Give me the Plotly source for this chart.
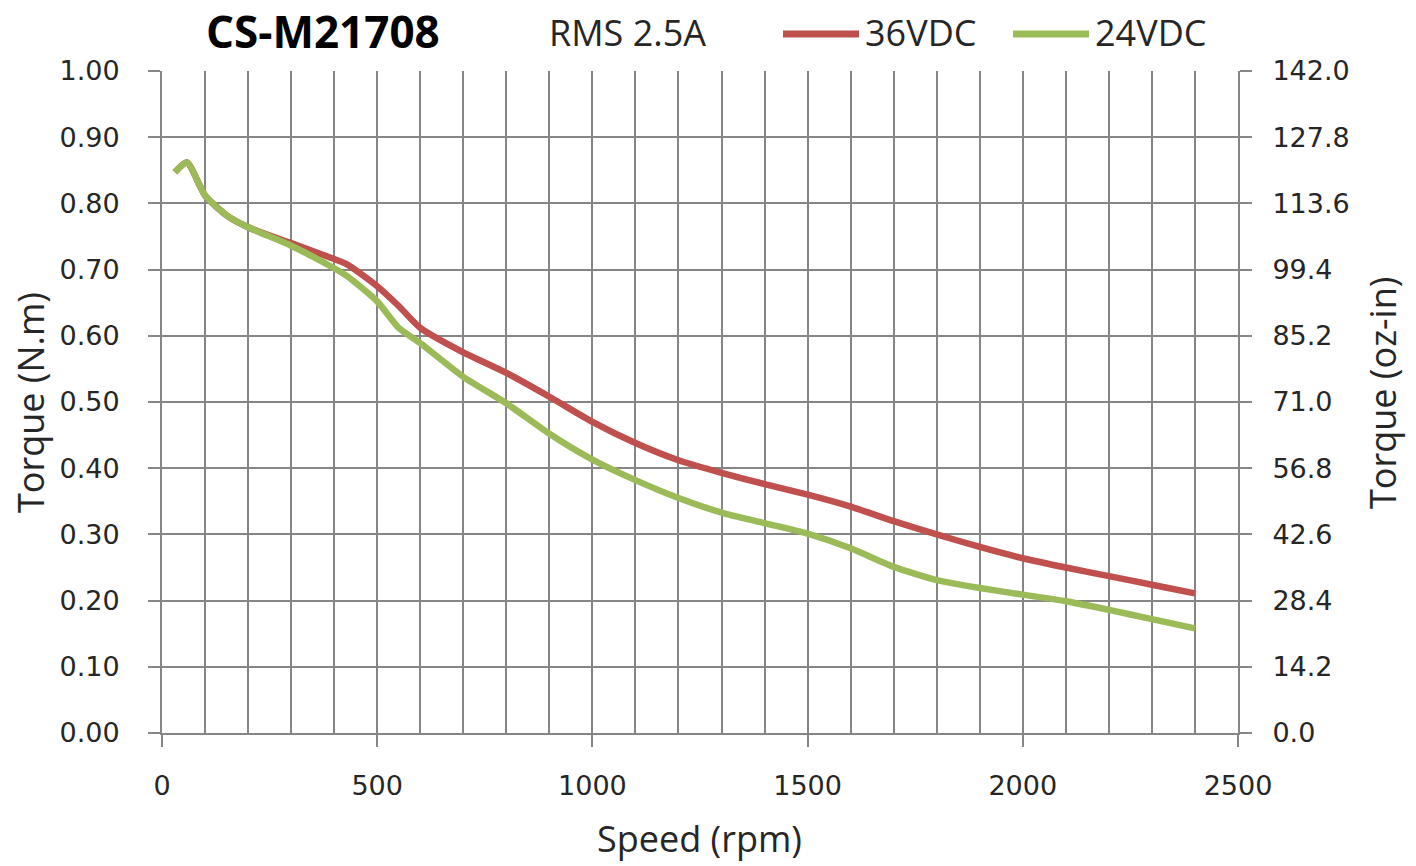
import plotly.graph_objects as go

# Speed (rpm) and torque (N.m) for the two supply voltages
speed = [30, 58, 100, 150, 200, 300, 400, 430, 500, 550, 600, 700, 800, 900,
         1000, 1100, 1200, 1300, 1400, 1500, 1600, 1700, 1800, 1900, 2000,
         2100, 2200, 2300, 2400]
torque_36v = [0.847, 0.862, 0.812, 0.782, 0.764, 0.740, 0.716, 0.708, 0.675,
              0.645, 0.612, 0.575, 0.544, 0.508, 0.470, 0.438, 0.412, 0.393,
              0.376, 0.360, 0.342, 0.320, 0.300, 0.281, 0.264, 0.250, 0.237,
              0.224, 0.211]
torque_24v = [0.847, 0.862, 0.812, 0.782, 0.764, 0.736, 0.702, 0.690, 0.652,
              0.612, 0.589, 0.538, 0.498, 0.452, 0.413, 0.382, 0.355, 0.333,
              0.317, 0.301, 0.279, 0.251, 0.231, 0.219, 0.209, 0.199, 0.186,
              0.172, 0.158]

series_names = ["36VDC", "24VDC"]
series_colors = ["#C0504D", "#9BBB59"]

left_ticks = [round(i * 0.1, 2) for i in range(11)]
right_ticks = [round(i * 14.2, 1) for i in range(11)]

title_text = "CS-M21708"
current_text = "RMS 2.5A"

GRID = "#868686"
TXT = "#262626"
TICK_FONT = dict(family="DejaVu Sans", size=27, color=TXT)
LABEL_FONT = "Open Sans"

fig = go.Figure()
for name, color, ys in zip(series_names, series_colors, [torque_36v, torque_24v]):
    fig.add_trace(go.Scatter(
        x=speed, y=ys, name=name, mode="lines",
        line=dict(color=color, width=6.5, shape="spline", smoothing=0.6),
        showlegend=False,
    ))
# invisible trace to activate the right-hand oz-in axis
fig.add_trace(go.Scatter(x=[None], y=[None], yaxis="y2", showlegend=False,
                         hoverinfo="skip"))

fig.update_layout(
    width=1416, height=866,
    margin=dict(l=162, r=178, t=71, b=133),
    paper_bgcolor="white", plot_bgcolor="white",
    xaxis=dict(
        range=[0, 2500], dtick=500, tick0=0,
        showgrid=True, gridcolor=GRID, gridwidth=2,
        minor=dict(dtick=100, showgrid=True, gridcolor=GRID, gridwidth=2),
        ticks="outside", ticklen=12, tickwidth=2, tickcolor=GRID,
        tickfont=TICK_FONT, ticklabelstandoff=16,
        zeroline=False, showline=True, linecolor=GRID, linewidth=2,
    ),
    yaxis=dict(
        range=[0, 1], tickvals=left_ticks, tickformat=".2f",
        showgrid=True, gridcolor=GRID, gridwidth=2,
        ticks="outside", ticklen=12, tickwidth=2, tickcolor=GRID,
        tickfont=TICK_FONT, ticklabelstandoff=23,
        zeroline=False, showline=True, linecolor=GRID, linewidth=2,
    ),
    yaxis2=dict(
        range=[0, 142], tickvals=right_ticks, tickformat=".1f",
        overlaying="y", side="right", showgrid=False,
        ticks="outside", ticklen=12, tickwidth=2, tickcolor=GRID,
        tickfont=TICK_FONT, ticklabelstandoff=15,
        zeroline=False, showline=True, linecolor=GRID, linewidth=2,
    ),
)

def px_x(p):
    return (p - 162) / 1076

def px_y(p):
    return (733 - p) / 662

annotations = [
    dict(text=f"<b>{title_text}</b>", x=px_x(323), y=px_y(31),
         font=dict(family=LABEL_FONT, size=44, color="black")),
    dict(text=current_text, x=px_x(627), y=px_y(33),
         font=dict(family=LABEL_FONT, size=36, color=TXT)),
    dict(text="Speed (rpm)", x=px_x(699), y=px_y(838),
         font=dict(family=LABEL_FONT, size=36, color=TXT)),
    dict(text="Torque (N.m)", x=px_x(30), y=px_y(403), textangle=-90,
         font=dict(family=LABEL_FONT, size=36, color=TXT)),
    dict(text="Torque (oz-in)", x=px_x(1383), y=px_y(393), textangle=-90,
         font=dict(family=LABEL_FONT, size=36, color=TXT)),
]
# legend: line sample + label for each series
legend_x = [783, 1013]
shapes = []
for name, color, lx in zip(series_names, series_colors, legend_x):
    shapes.append(dict(type="line", xref="paper", yref="paper",
                       x0=px_x(lx), x1=px_x(lx + 76), y0=px_y(34), y1=px_y(34),
                       line=dict(color=color, width=7)))
    annotations.append(dict(text=name, x=px_x(lx + 80), y=px_y(33),
                            xanchor="left",
                            font=dict(family=LABEL_FONT, size=36, color=TXT)))

for a in annotations:
    a.setdefault("xref", "paper")
    a.setdefault("yref", "paper")
    a.setdefault("xanchor", "center")
    a.setdefault("yanchor", "middle")
    a.setdefault("showarrow", False)
fig.update_layout(annotations=annotations, shapes=shapes)

fig.write_html("out.html")
